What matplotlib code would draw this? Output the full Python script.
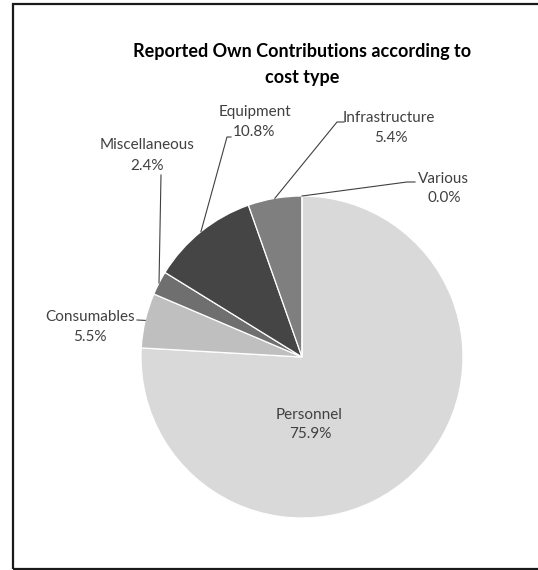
import numpy as np
import matplotlib.pyplot as plt
from matplotlib.patches import Rectangle

W, H = 538, 570

categories = ["Personnel", "Consumables", "Miscellaneous", "Equipment", "Infrastructure", "Various"]
shares = [75.9, 5.5, 2.4, 10.8, 5.4, 0.0]
colors = ["#d9d9d9", "#bfbfbf", "#6f6f6f", "#454545", "#7f7f7f", "#a6a6a6"]

title_lines = ["Reported Own Contributions according to", "cost type"]

# layout in pixels measured from the top-left corner of the picture
# name line centre, value line centre, leader elbow, stub end (None = label inside)
layout = {
    "Personnel": ((309, 415), (310, 434), None, None),
    "Consumables": ((90, 317), (90, 337), (137, 320), None),
    "Miscellaneous": ((147, 145), (147, 166), (161, 175), None),
    "Equipment": ((255, 112), (254, 132), (227, 137), (231, 137)),
    "Infrastructure": ((389, 118), (391, 138), (337, 122), (344, 122)),
    "Various": ((443, 179), (444, 198), (407, 182), (415, 182)),
}
title_y = [52, 78]

pie_center = (302, 357)
pie_radius = 161

FONT = ["Lato", "DejaVu Sans"]
TEXT_COLOR = "#404040"


def flip(p):
    return (p[0], H - p[1])


fig = plt.figure(figsize=(W / 100, H / 100), dpi=100)
ax = fig.add_axes([0, 0, 1, 1])
ax.set_xlim(0, W)
ax.set_ylim(0, H)
ax.set_aspect("equal")
ax.axis("off")

# frame round the chart area (right edge falls outside the picture)
ax.add_patch(Rectangle((13, 1), W, H - 5, fill=False, edgecolor="#1a1a1a", linewidth=1.6))

cx, cy = flip(pie_center)
wedges, _ = ax.pie(shares, colors=colors, startangle=90, counterclock=False,
                   center=(cx, cy), radius=pie_radius,
                   wedgeprops=dict(edgecolor="white", linewidth=0.9))
ax.set_xlim(0, W)
ax.set_ylim(0, H)

for wedge, name, share in zip(wedges, categories, shares):
    name_xy, value_xy, elbow, stub = layout[name]
    ax.text(*flip(name_xy), name, ha="center", va="center", fontsize=11,
            family=FONT, color=TEXT_COLOR)
    ax.text(*flip(value_xy), f"{share:.1f}%", ha="center", va="center", fontsize=11,
            family=FONT, color=TEXT_COLOR)
    if elbow is None:
        continue
    mid = np.deg2rad((wedge.theta1 + wedge.theta2) / 2)
    edge = (cx + pie_radius * np.cos(mid), cy + pie_radius * np.sin(mid))
    xs = [edge[0], flip(elbow)[0]]
    ys = [edge[1], flip(elbow)[1]]
    if stub is not None:
        xs.append(flip(stub)[0])
        ys.append(flip(stub)[1])
    ax.plot(xs, ys, color="#404040", linewidth=0.8)

for line, y in zip(title_lines, title_y):
    ax.text(302.5, H - y, line, ha="center", va="center", fontsize=13,
            fontweight="bold", family=FONT, color="#000000")

fig.savefig("out.png", dpi=100)
